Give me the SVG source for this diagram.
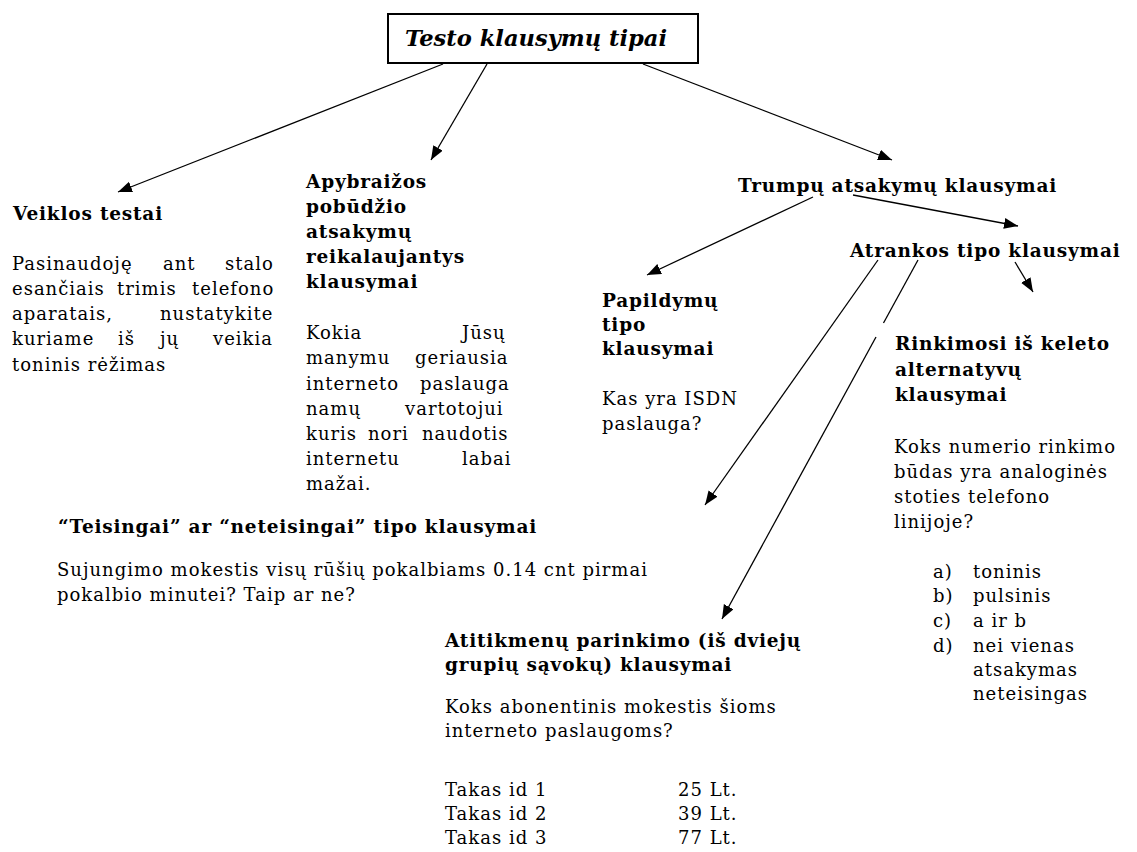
<svg xmlns="http://www.w3.org/2000/svg" width="1137" height="852" viewBox="0 0 1137 852">
<style>
text{font-family:"DejaVu Serif","Liberation Serif",serif;fill:#000}
.r{font-size:18px;letter-spacing:1px}
.b{font-size:18.5px;font-weight:bold;letter-spacing:0.8px}
.t{font-size:23px;font-weight:bold;font-style:italic}
.ln{stroke:#000;stroke-width:1.3;fill:none}
</style>
<defs>
<marker id="ah" markerUnits="userSpaceOnUse" markerWidth="15" markerHeight="12" refX="14" refY="5.5" orient="auto">
<path d="M0,0 L14,5.5 L0,11 z" fill="#000"/>
</marker>
</defs>
<rect width="1137" height="852" fill="#fff"/>

<g id="connectors">
<path class="ln" d="M443,64 L118,192" marker-end="url(#ah)"/>
<path class="ln" d="M487,64 L431,160" marker-end="url(#ah)"/>
<path class="ln" d="M643,64 L892,160" marker-end="url(#ah)"/>
<path class="ln" d="M813,197 L647,275" marker-end="url(#ah)"/>
<path class="ln" d="M853,195 L1018,226" marker-end="url(#ah)"/>
<path class="ln" d="M1015,262 L1033,292" marker-end="url(#ah)"/>
<path class="ln" d="M878,260 L705,505" marker-end="url(#ah)"/>
<path class="ln" d="M918,260 L883.5,323"/>
<path class="ln" d="M876,337 L722,619" marker-end="url(#ah)"/>
</g>

<g id="root">
<rect x="388" y="14" width="310" height="49" fill="#fff" stroke="#000" stroke-width="2"/>
<text class="t" x="405" y="46" textLength="262" lengthAdjust="spacingAndGlyphs">Testo klausymų tipai</text>
</g>

<g id="veiklos">
<text class="b" x="13" y="220">Veiklos testai</text>
<text class="r" y="270"><tspan x="12">Pasinaudoję</tspan><tspan x="163">ant</tspan><tspan x="225">stalo</tspan></text>
<text class="r" y="295"><tspan x="12">esančiais</tspan><tspan x="117">trimis</tspan><tspan x="192">telefono</tspan></text>
<text class="r" y="320"><tspan x="12">aparatais,</tspan><tspan x="160">nustatykite</tspan></text>
<text class="r" y="345"><tspan x="12">kuriame</tspan><tspan x="118">iš</tspan><tspan x="160">jų</tspan><tspan x="213">veikia</tspan></text>
<text class="r" x="12" y="371">toninis rėžimas</text>
</g>

<g id="apybraizos">
<text class="b" x="306" y="188">Apybraižos</text>
<text class="b" x="306" y="213">pobūdžio</text>
<text class="b" x="306" y="238">atsakymų</text>
<text class="b" x="306" y="263">reikalaujantys</text>
<text class="b" x="306" y="288">klausymai</text>
<text class="r" y="339"><tspan x="306">Kokia</tspan><tspan x="462">Jūsų</tspan></text>
<text class="r" y="364"><tspan x="306">manymu</tspan><tspan x="415">geriausia</tspan></text>
<text class="r" y="390"><tspan x="306">interneto</tspan><tspan x="420">paslauga</tspan></text>
<text class="r" y="415"><tspan x="306">namų</tspan><tspan x="405">vartotojui</tspan></text>
<text class="r" y="440"><tspan x="306">kuris</tspan><tspan x="368">nori</tspan><tspan x="422">naudotis</tspan></text>
<text class="r" y="465"><tspan x="306">internetu</tspan><tspan x="462">labai</tspan></text>
<text class="r" x="306" y="490">mažai.</text>
</g>

<g id="trumpu">
<text class="b" x="738" y="192">Trumpų atsakymų klausymai</text>
</g>

<g id="atrankos">
<text class="b" x="850" y="257">Atrankos tipo klausymai</text>
</g>

<g id="papildymu">
<text class="b" x="602" y="307">Papildymų</text>
<text class="b" x="602" y="331">tipo</text>
<text class="b" x="602" y="355">klausymai</text>
<text class="r" x="602" y="405">Kas yra ISDN</text>
<text class="r" x="602" y="430">paslauga?</text>
</g>

<g id="rinkimosi">
<text class="b" x="895" y="350">Rinkimosi iš keleto</text>
<text class="b" x="895" y="376">alternatyvų</text>
<text class="b" x="895" y="401">klausymai</text>
<text class="r" x="894" y="453">Koks numerio rinkimo</text>
<text class="r" x="894" y="478">būdas yra analoginės</text>
<text class="r" x="894" y="503">stoties telefono</text>
<text class="r" x="894" y="528">linijoje?</text>
<text class="r" x="933" y="578">a)</text><text class="r" x="973" y="578">toninis</text>
<text class="r" x="933" y="602">b)</text><text class="r" x="973" y="602">pulsinis</text>
<text class="r" x="933" y="627">c)</text><text class="r" x="973" y="627">a ir b</text>
<text class="r" x="933" y="652">d)</text><text class="r" x="973" y="652">nei vienas</text>
<text class="r" x="973" y="676">atsakymas</text>
<text class="r" x="973" y="700">neteisingas</text>
</g>

<g id="teisingai">
<text class="b" x="58" y="533">“Teisingai” ar “neteisingai” tipo klausymai</text>
<text class="r" x="57" y="576">Sujungimo mokestis visų rūšių pokalbiams 0.14 cnt pirmai</text>
<text class="r" x="57" y="601">pokalbio minutei? Taip ar ne?</text>
</g>

<g id="atitikmenu">
<text class="b" x="445" y="647">Atitikmenų parinkimo (iš dviejų</text>
<text class="b" x="445" y="671">grupių sąvokų) klausymai</text>
<text class="r" x="445" y="713">Koks abonentinis mokestis šioms</text>
<text class="r" x="445" y="737">interneto paslaugoms?</text>
<text class="r" x="445" y="796">Takas id 1</text><text class="r" x="678" y="796">25 Lt.</text>
<text class="r" x="445" y="820">Takas id 2</text><text class="r" x="678" y="820">39 Lt.</text>
<text class="r" x="445" y="844">Takas id 3</text><text class="r" x="678" y="844">77 Lt.</text>
</g>
</svg>
